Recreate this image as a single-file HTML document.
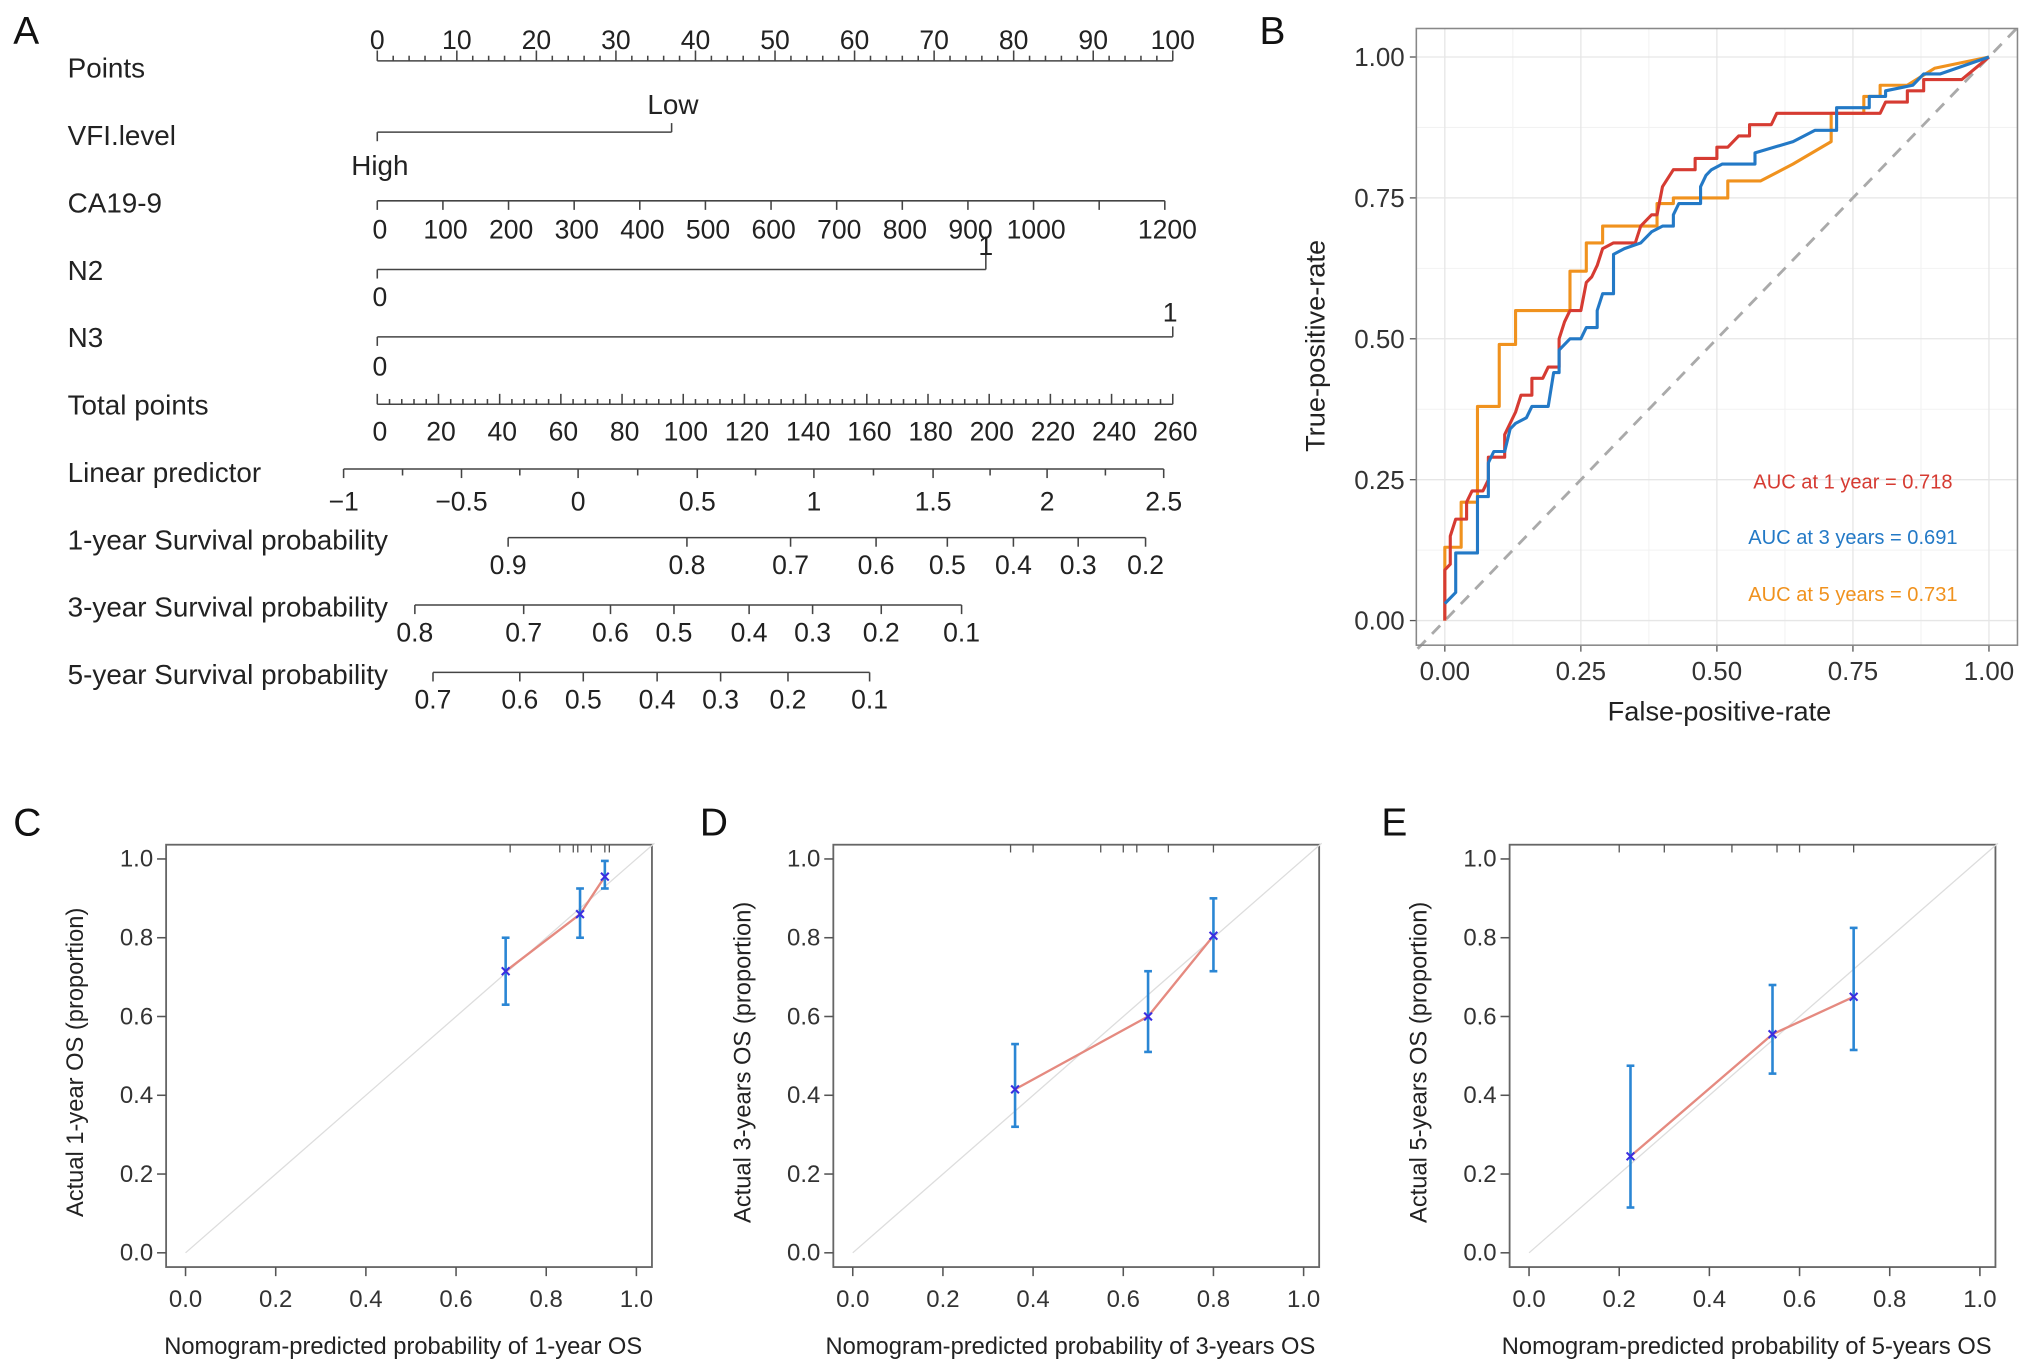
<!DOCTYPE html>
<html><head><meta charset="utf-8"><style>
html,body{margin:0;padding:0;background:#fff}
svg{display:block;font-family:"Liberation Sans",Arial,sans-serif}
</style></head><body>
<svg id="fig" width="2032" height="1372" viewBox="0 0 1568 1059" xmlns="http://www.w3.org/2000/svg">
<g id="pA"></g>
<g id="pB"></g>
<g id="pC"></g>
<g id="pD"></g>
<g id="pE"></g>
</svg>
<script>
// ---- Nomogram data ----
const nomoRows = ["Points","VFI.level","CA19-9","N2","N3","Total points","Linear predictor","1-year Survival probability","3-year Survival probability","5-year Survival probability"];
const pointsTicks = [0,10,20,30,40,50,60,70,80,90,100];
const ca199Ticks = [0,100,200,300,400,500,600,700,800,900,1000,1100,1200];
const ca199Labels = ["0","100","200","300","400","500","600","700","800","900","1000","","1200"];
const ca199Points = [0,100];
const vfiPoints = [0,37];
const n2Points = [0,76.5];
const n3Points = [0,100];
const totalTicks = [0,20,40,60,80,100,120,140,160,180,200,220,240,260];
const lpTicks = [-1,-0.5,0,0.5,1,1.5,2,2.5];
const lpTickPx = [265,356,446,538,628,720,808,898];
const surv1Labels = ["0.9","0.8","0.7","0.6","0.5","0.4","0.3","0.2"];
const surv1Px = [392,530,610,676,731,782,832,884];
const surv3Labels = ["0.8","0.7","0.6","0.5","0.4","0.3","0.2","0.1"];
const surv3Px = [320,404,471,520,578,627,680,742];
const surv5Labels = ["0.7","0.6","0.5","0.4","0.3","0.2","0.1"];
const surv5Px = [334,401,450,507,556,608,671];

// ---- ROC data ----
const rocRedFpr = [0,0,0.01,0.01,0.02,0.04,0.04,0.05,0.07,0.08,0.08,0.11,0.11,0.13,0.14,0.16,0.16,0.18,0.19,0.21,0.21,0.22,0.23,0.25,0.26,0.27,0.28,0.29,0.31,0.35,0.36,0.38,0.39,0.40,0.42,0.46,0.46,0.50,0.50,0.52,0.54,0.56,0.56,0.60,0.61,0.80,0.81,0.85,0.85,0.88,0.88,0.95,1];
const rocRedTpr = [0,0.09,0.10,0.15,0.18,0.18,0.21,0.23,0.23,0.25,0.29,0.29,0.33,0.37,0.40,0.40,0.43,0.43,0.45,0.45,0.50,0.53,0.55,0.55,0.60,0.61,0.63,0.66,0.67,0.67,0.70,0.72,0.72,0.77,0.80,0.80,0.82,0.82,0.84,0.84,0.86,0.86,0.88,0.88,0.90,0.90,0.92,0.92,0.94,0.94,0.96,0.96,1];
const rocBlueFpr = [0,0.02,0.02,0.06,0.06,0.08,0.08,0.09,0.11,0.12,0.13,0.15,0.16,0.19,0.20,0.21,0.21,0.23,0.25,0.26,0.28,0.28,0.29,0.31,0.31,0.33,0.36,0.38,0.40,0.42,0.42,0.43,0.47,0.47,0.48,0.49,0.51,0.57,0.57,0.64,0.68,0.72,0.72,0.78,0.78,0.81,0.81,0.86,0.88,0.91,1];
const rocBlueTpr = [0.03,0.05,0.12,0.12,0.22,0.22,0.28,0.30,0.30,0.34,0.35,0.36,0.38,0.38,0.44,0.44,0.48,0.50,0.50,0.52,0.52,0.55,0.58,0.58,0.65,0.66,0.67,0.69,0.70,0.70,0.72,0.74,0.74,0.77,0.79,0.80,0.81,0.81,0.83,0.85,0.87,0.87,0.91,0.91,0.93,0.93,0.94,0.95,0.97,0.97,1];
const rocOrangeFpr = [0,0,0.03,0.03,0.06,0.06,0.10,0.10,0.13,0.13,0.23,0.23,0.26,0.26,0.29,0.29,0.39,0.39,0.42,0.42,0.52,0.52,0.58,0.64,0.71,0.71,0.77,0.77,0.80,0.80,0.85,0.90,1];
const rocOrangeTpr = [0,0.13,0.13,0.21,0.21,0.38,0.38,0.49,0.49,0.55,0.55,0.62,0.62,0.67,0.67,0.70,0.70,0.74,0.74,0.75,0.75,0.78,0.78,0.81,0.85,0.90,0.90,0.93,0.93,0.95,0.95,0.98,1];
const rocTicks = [0,0.25,0.5,0.75,1];
const aucLabels = ["AUC at 1 year = 0.718","AUC at 3 years = 0.691","AUC at 5 years = 0.731"];

// ---- Calibration data ----
const cal1Pred = [0.71,0.875,0.93];
const cal1Obs = [0.715,0.86,0.955];
const cal1Lo = [0.63,0.80,0.925];
const cal1Hi = [0.80,0.925,0.995];
const cal3Pred = [0.36,0.655,0.80];
const cal3Obs = [0.415,0.60,0.805];
const cal3Lo = [0.32,0.51,0.715];
const cal3Hi = [0.53,0.715,0.90];
const cal5Pred = [0.225,0.54,0.72];
const cal5Obs = [0.245,0.555,0.65];
const cal5Lo = [0.115,0.455,0.515];
const cal5Hi = [0.475,0.68,0.825];
const calTicks = [0,0.2,0.4,0.6,0.8,1.0];
const cal1Rug = [0.72,0.83,0.86,0.87,0.9,0.93,0.94];
const cal3Rug = [0.35,0.4,0.55,0.6,0.63,0.7,0.8];
const cal5Rug = [0.2,0.3,0.45,0.55,0.6,0.72];

const NS="http://www.w3.org/2000/svg";
function mk(parent,tag,attrs,text){const e=document.createElementNS(NS,tag);for(const k in attrs)e.setAttribute(k,attrs[k]);if(text!==undefined)e.textContent=text;parent.appendChild(e);return e;}
function txt(p,x,y,s,size,anchor,fill,name){const t=mk(p,'text',{x:x,y:y,'font-size':size,'text-anchor':anchor||'start',fill:fill||'#222'},s);

return t;}
function ln(p,x1,y1,x2,y2,st,w,name){const l=mk(p,'line',{x1:x1,y1:y1,x2:x2,y2:y2,stroke:st||'#444','stroke-width':w||1.2});

return l;}

const FA=20.5, FL=21.5;
// ===== Panel A =====
const A=document.getElementById('pA');
txt(A,10,34,'A',30,'start','#111','panel-a-letter');
const rowY=[54,106,158,210,262,314,366,418,470,522];
nomoRows.forEach((r,i)=>txt(A,52,rowY[i]+6,r,FL,'start','#222','row-label'));
const pX0=291,pX1=905;
const pScale=v=>pX0+(pX1-pX0)*v/100;
ln(A,pX0,47,pX1,47,'#444',1.2,'points-axis');
for(let v=0;v<=100;v+=2){ln(A,pScale(v),47,pScale(v),v%10===0?39:43);}
pointsTicks.forEach(v=>txt(A,pScale(v),38,String(v),FA,'middle','#222','points-tick-label'));
ln(A,pScale(vfiPoints[0]),102,pScale(vfiPoints[1]),102,'#444',1.2,'vfi-axis');
ln(A,pScale(vfiPoints[0]),102,pScale(vfiPoints[0]),109);ln(A,pScale(vfiPoints[1]),102,pScale(vfiPoints[1]),95);
txt(A,pScale(vfiPoints[1])+1,88,'Low',FL,'middle','#222','vfi-low-label');
txt(A,pScale(vfiPoints[0])+2,135,'High',FL,'middle','#222','vfi-high-label');
const caS=v=>pScale(ca199Points[0]+(ca199Points[1]-ca199Points[0])*v/ca199Ticks[ca199Ticks.length-1]*0.99);
ln(A,caS(0),155,caS(1200),155,'#444',1.2,'ca199-axis');
ca199Ticks.forEach((v,i)=>{ln(A,caS(v),155,caS(v),162);if(ca199Labels[i])txt(A,caS(v)+2,184,ca199Labels[i],FA,'middle','#222','ca199-tick-label');});
ln(A,pScale(n2Points[0]),208,pScale(n2Points[1]),208,'#444',1.2,'n2-axis');
ln(A,pScale(0),208,pScale(0),215);ln(A,pScale(n2Points[1]),208,pScale(n2Points[1]),196);
txt(A,pScale(n2Points[1]),197,'1',FA,'middle','#222','n2-one-label');
txt(A,pScale(0)+2,236,'0',FA,'middle','#222','n2-zero-label');
ln(A,pScale(n3Points[0]),260,pScale(n3Points[1]),260,'#444',1.2,'n3-axis');
ln(A,pScale(0),260,pScale(0),267);ln(A,pScale(n3Points[1]),260,pScale(n3Points[1]),252);
txt(A,pScale(n3Points[1])-2,248,'1',FA,'middle','#222','n3-one-label');
txt(A,pScale(0)+2,290,'0',FA,'middle','#222','n3-zero-label');
const tS=v=>pX0+(pX1-pX0)*v/260;
ln(A,pX0,312,pX1,312,'#444',1.2,'total-points-axis');
for(let v=0;v<=260;v+=4){ln(A,tS(v),312,tS(v),v%20===0?304:308);}
totalTicks.forEach(v=>txt(A,tS(v)+2,340,String(v),FA,'middle','#222','total-points-tick-label'));
ln(A,lpTickPx[0],362,lpTickPx[lpTickPx.length-1],362,'#444',1.2,'linear-predictor-axis');
lpTickPx.forEach((x,i)=>{ln(A,x,362,x,369);if(i<lpTickPx.length-1)ln(A,(x+lpTickPx[i+1])/2,362,(x+lpTickPx[i+1])/2,367);
txt(A,x,394,String(lpTicks[i]).replace('-','\u2212'),FA,'middle','#222','linear-predictor-tick-label');});
function probAxis(px,labels,y,name){ln(A,px[0],y,px[px.length-1],y,'#444',1.2,name);px.forEach((x,i)=>{ln(A,x,y,x,y+7);txt(A,x,y+28,labels[i],FA,'middle','#222',name+'-tick-label');});}
probAxis(surv1Px,surv1Labels,415,'survival-1-year-axis');
probAxis(surv3Px,surv3Labels,467,'survival-3-year-axis');
probAxis(surv5Px,surv5Labels,519,'survival-5-year-axis');

// ===== Panel B =====
const B=document.getElementById('pB');
txt(B,972,34,'B',30,'start','#111','panel-b-letter');
const bx0=1093,bx1=1557,by0=22,by1=498;
const rx=v=>1115+420*v, ry=v=>479-435*v;
mk(B,'rect',{x:bx0,y:by0,width:bx1-bx0,height:by1-by0,fill:'#fff',stroke:'none'});
[0.125,0.375,0.625,0.875].forEach(v=>{ln(B,rx(v),by0,rx(v),by1,'#f2f2f2',0.8,'minor-gridline-x');ln(B,bx0,ry(v),bx1,ry(v),'#f2f2f2',0.8,'minor-gridline-y');});
rocTicks.forEach(v=>{ln(B,rx(v),by0,rx(v),by1,'#e6e6e6',1,'gridline-x');ln(B,bx0,ry(v),bx1,ry(v),'#e6e6e6',1,'gridline-y');
ln(B,rx(v),by1,rx(v),by1+5,'#555',1,'x-tick');ln(B,bx0-5,ry(v),bx0,ry(v),'#555',1,'y-tick');
txt(B,rx(v),by1+27,v.toFixed(2),20,'middle','#333','x-tick-label');txt(B,bx0-9,ry(v)+7,v.toFixed(2),20,'end','#333','y-tick-label');});
const dg=ln(B,rx(-0.05),ry(-0.05),rx(1.05),ry(1.05),'#aaa',2.2,'reference-diagonal');dg.setAttribute('stroke-dasharray','9,7');
function path(p,xs,ys,fx,fy,col,w,name){let d='';xs.forEach((x,i)=>{d+=(i?'L':'M')+fx(x).toFixed(1)+','+fy(ys[i]).toFixed(1);});
const e=mk(p,'path',{d:d,fill:'none',stroke:col,'stroke-width':w,'stroke-linejoin':'round'});

return e;}
path(B,rocOrangeFpr,rocOrangeTpr,rx,ry,'#f0921e',2.4,'roc-curve-5-year');
path(B,rocRedFpr,rocRedTpr,rx,ry,'#d63b32',2.4,'roc-curve-1-year');
path(B,rocBlueFpr,rocBlueTpr,rx,ry,'#2379c6',2.4,'roc-curve-3-year');
mk(B,'rect',{x:bx0,y:by0,width:bx1-bx0,height:by1-by0,fill:'none',stroke:'#888','stroke-width':1.2});
txt(B,1430,377,aucLabels[0],15.5,'middle','#d63b32','auc-1-year-label');
txt(B,1430,420,aucLabels[1],15.5,'middle','#2379c6','auc-3-year-label');
txt(B,1430,464,aucLabels[2],15.5,'middle','#f0921e','auc-5-year-label');
txt(B,1327,556,'False-positive-rate',21,'middle','#222','x-axis-title');
const yt=txt(B,0,0,'True-positive-rate',21,'middle','#222','y-axis-title');yt.setAttribute('transform','translate(1022,267) rotate(-90)');

// ===== Calibration panels =====
function calPanel(id,letter,lx,bx0,pred,obs,lo,hi,rug,xTitle,yTitle){
 const G=document.getElementById(id);
 const by0=652,by1=978;
 const cx=v=>bx0+15+348*v, cy=v=>967-304*v;
 txt(G,lx,645,letter,30,'start','#111','panel-letter');
 mk(G,'rect',{x:bx0,y:by0,width:375,height:by1-by0,fill:'none',stroke:'#666','stroke-width':1.4});
 calTicks.forEach(v=>{ln(G,cx(v),by1,cx(v),by1+7,'#555',1.2,'x-tick');ln(G,bx0-7,cy(v),bx0,cy(v),'#555',1.2,'y-tick');
  txt(G,cx(v),by1+31,v.toFixed(1),18.5,'middle','#333','x-tick-label');txt(G,bx0-10,cy(v)+6,v.toFixed(1),18.5,'end','#333','y-tick-label');});
 ln(G,cx(0),cy(0),cx(1.04),cy(1.04),'#ddd',1,'ideal-diagonal');
 rug.forEach(v=>ln(G,cx(v),by0,cx(v),by0+6,'#555',1,'rug-tick'));
 path(G,pred,obs,cx,cy,'#e58a80',1.8,'calibration-line');
 pred.forEach((p,i)=>{ln(G,cx(p),cy(lo[i]),cx(p),cy(hi[i]),'#2a86d4',2,'error-bar');
  ln(G,cx(p)-3,cy(lo[i]),cx(p)+3,cy(lo[i]),'#2a86d4',2,'error-cap');ln(G,cx(p)-3,cy(hi[i]),cx(p)+3,cy(hi[i]),'#2a86d4',2,'error-cap');
  ln(G,cx(p)-3,cy(obs[i])-3,cx(p)+3,cy(obs[i])+3,'#3a2ee0',1.6,'point-marker');ln(G,cx(p)-3,cy(obs[i])+3,cx(p)+3,cy(obs[i])-3,'#3a2ee0',1.6,'point-marker');});
 txt(G,bx0+183,1045,xTitle,18.3,'middle','#222','x-axis-title');
 const t=txt(G,0,0,yTitle,18.3,'middle','#222','y-axis-title');t.setAttribute('transform','translate('+(bx0-64)+',820) rotate(-90)');
}
calPanel('pC','C',10,128,cal1Pred,cal1Obs,cal1Lo,cal1Hi,cal1Rug,'Nomogram-predicted probability of 1-year OS','Actual 1-year OS (proportion)');
calPanel('pD','D',540,643,cal3Pred,cal3Obs,cal3Lo,cal3Hi,cal3Rug,'Nomogram-predicted probability of 3-years OS','Actual 3-years OS (proportion)');
calPanel('pE','E',1066,1165,cal5Pred,cal5Obs,cal5Lo,cal5Hi,cal5Rug,'Nomogram-predicted probability of 5-years OS','Actual 5-years OS (proportion)');
</script>
</body></html>
